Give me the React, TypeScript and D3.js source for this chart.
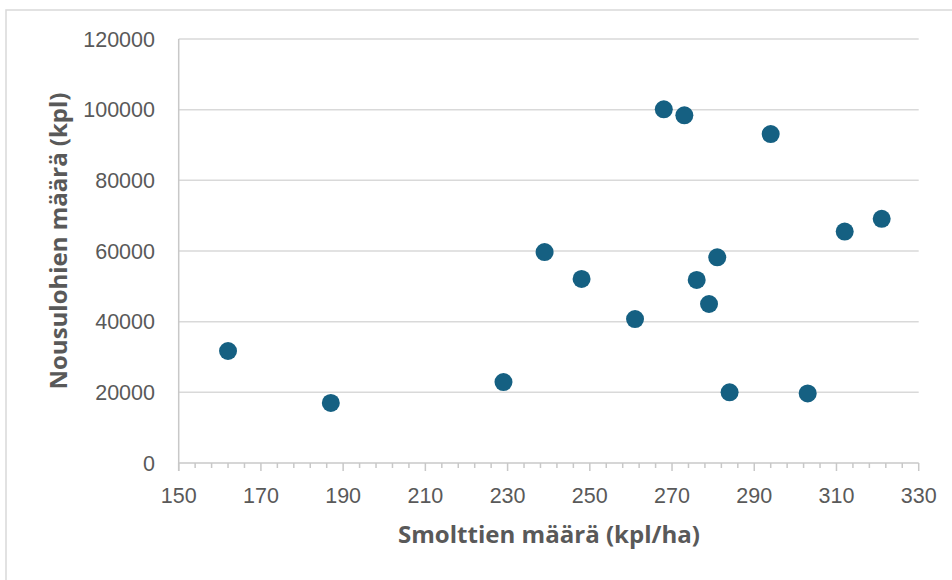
import React from "react";
import * as d3 from "d3";

// smolt density (kpl/ha) vs returning salmon (kpl)
const smolts = [162, 187, 229, 239, 248, 261, 268, 273, 276, 279, 281, 284, 294, 303, 312, 321];
const returners = [31700, 17000, 22900, 59700, 52100, 40750, 100100, 98400, 51800, 45000, 58200, 20000, 93100, 19700, 65500, 69100];
const xTicks = [150, 170, 190, 210, 230, 250, 270, 290, 310, 330];
const yTicks = [0, 20000, 40000, 60000, 80000, 100000, 120000];

const W = 952;
const H = 580;
const grey = "#595959";
const tickFont = "'Liberation Sans', Arial, sans-serif";
const titleFont = "'Open Sans', 'Liberation Sans', sans-serif";

export default function App() {
  const x = d3.scaleLinear().domain([150, 330]).range([178.7, 918.7]);
  const y = d3.scaleLinear().domain([0, 120000]).range([463, 39]);
  const minor = d3.range(150, 330.1, 4);

  return (
    <svg width={W} height={H} style={{ position: "absolute", left: 0, top: 0 }}>
      <rect x={0} y={0} width={W} height={H} fill="#fff" />
      <rect x={6} y={10} width={W + 20} height={H + 20} fill="none" stroke="#d9d9d9" strokeWidth={1.5} />

      {yTicks.map((t) => (
        <g key={t}>
          {t > 0 && (
            <line x1={x(150)} x2={x(330)} y1={y(t)} y2={y(t)} stroke="#d9d9d9" strokeWidth={1.5} />
          )}
          <text x={155} y={y(t)} dy="0.36em" textAnchor="end" fontSize={21.5} fill={grey} fontFamily={tickFont}>
            {t}
          </text>
        </g>
      ))}

      {/* axes */}
      <line x1={x(150)} x2={x(150)} y1={y(120000)} y2={y(0) + 8} stroke="#c8c8c8" strokeWidth={1.5} />
      <line x1={x(150)} x2={x(330)} y1={y(0)} y2={y(0)} stroke="#c8c8c8" strokeWidth={1.5} />
      {minor.map((m) => {
        const major = (m - 150) % 20 === 0;
        return (
          <line key={m} x1={x(m)} x2={x(m)} y1={y(0)} y2={y(0) + (major ? 8 : 5)} stroke="#c8c8c8" strokeWidth={1.5} />
        );
      })}
      {xTicks.map((t) => (
        <text key={t} x={x(t)} y={502.5} textAnchor="middle" fontSize={21.5} fill={grey} fontFamily={tickFont}>
          {t}
        </text>
      ))}

      {smolts.map((s, i) => (
        <circle key={i} cx={x(s)} cy={y(returners[i])} r={9} fill="#156082" />
      ))}

      <text x={549} y={543} textAnchor="middle" fontSize={23} fontWeight="bold" fill={grey} fontFamily={titleFont}
        textLength={302} lengthAdjust="spacingAndGlyphs">
        Smolttien määrä (kpl/ha)
      </text>
      <text
        transform={`translate(67,241) rotate(-90)`}
        textAnchor="middle"
        fontSize={23}
        fontWeight="bold"
        fill={grey}
        fontFamily={titleFont}
        textLength={297}
        lengthAdjust="spacingAndGlyphs"
      >
        Nousulohien määrä (kpl)
      </text>
    </svg>
  );
}
